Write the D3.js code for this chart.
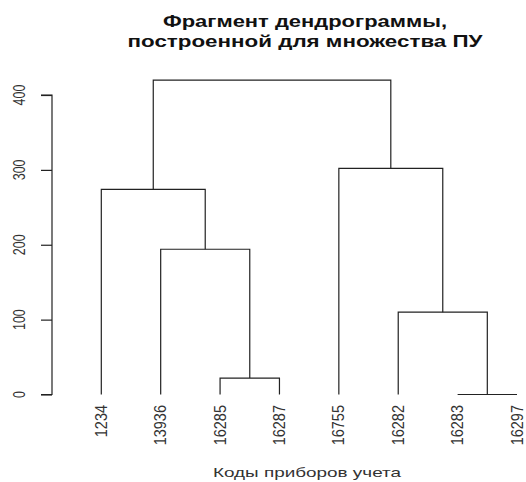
<!DOCTYPE html>
<html>
<head>
<meta charset="utf-8">
<script src="https://cdn.jsdelivr.net/npm/d3@7"></script>
<style>
  html, body { margin: 0; padding: 0; background: #fff; }
  svg { display: block; font-family: "Liberation Sans", Arial, sans-serif; }
</style>
</head>
<body>
<svg id="chart" width="526" height="482"></svg>
<script>
// Leaves in plotting order
const leafLabels = ["1234", "13936", "16285", "16287", "16755", "16282", "16283", "16297"];

// Agglomeration steps (hclust style): negative = leaf number (1-based), positive = earlier step
const mergeLeft   = [-7, -3, -6, -2, -1, -5, 5];
const mergeRight  = [-8, -4, 1, 2, 4, 3, 6];
const mergeHeight = [0, 22, 110, 194, 274, 302, 420];

const yTicks = [0, 100, 200, 300, 400];

const titleLines = ["Фрагмент дендрограммы,", "построенной для множества ПУ"];
const xTitle = "Коды приборов учета";

const svg = d3.select("#chart");
const ink = "#222";

const x = d3.scalePoint().domain(leafLabels).range([101.3, 517]);
const y = d3.scaleLinear().domain([0, 400]).range([394.5, 95]);

// Resolve a node reference to its x position and height
const nodeX = [], nodeH = [];
function ref(r) {
  if (r < 0) return { x: x(leafLabels[-r - 1]), h: 0 };
  return { x: nodeX[r - 1], h: nodeH[r - 1] };
}

const g = svg.append("g");
mergeHeight.forEach((h, i) => {
  const a = ref(mergeLeft[i]), b = ref(mergeRight[i]);
  nodeX[i] = (a.x + b.x) / 2;
  nodeH[i] = h;
  const p = d3.path();
  p.moveTo(a.x, y(a.h));
  p.lineTo(a.x, y(h));
  p.lineTo(b.x, y(h));
  p.lineTo(b.x, y(b.h));
  g.append("path")
    .attr("d", p.toString())
    .attr("fill", "none")
    .attr("stroke", ink)
    .attr("stroke-width", 1.2);
});

// Vertical axis
const axis = svg.append("g")
  .attr("transform", "translate(52,0)")
  .call(d3.axisLeft(y).tickValues(yTicks).tickSize(11).tickFormat(d3.format("d")));
axis.select(".domain").attr("stroke", ink).attr("stroke-width", 1.2).attr("d", `M-11,${y(400)}H0V${y(0)}H-11`);
axis.selectAll(".tick line").attr("stroke", ink).attr("stroke-width", 1.2);
axis.selectAll(".tick text").remove();

svg.append("g").selectAll("text")
  .data(yTicks)
  .join("text")
  .attr("transform", d => `translate(19,${y(d)}) scale(1.3,1) rotate(-90)`)
  .attr("text-anchor", "middle")
  .attr("dy", "0.35em")
  .attr("font-size", 12.5)
  .attr("fill", "#333")
  .text(d => d);

// Leaf labels
svg.append("g").selectAll("text")
  .data(leafLabels)
  .join("text")
  .attr("transform", d => `translate(${x(d)},405) scale(1.1,1) rotate(-90)`)
  .attr("text-anchor", "end")
  .attr("dy", "0.35em")
  .attr("font-size", 14.5)
  .attr("fill", "#333")
  .text(d => d);

// Title
svg.append("g").selectAll("text")
  .data(titleLines)
  .join("text")
  .attr("x", 305)
  .attr("y", (d, i) => 27 + i * 20)
  .attr("text-anchor", "middle")
  .attr("font-weight", "bold")
  .attr("font-size", 16.5)
  .attr("fill", "#111")
  .attr("textLength", (d, i) => i === 0 ? 284 : 355)
  .attr("lengthAdjust", "spacingAndGlyphs")
  .text(d => d);

// Axis title
svg.append("text")
  .attr("x", 307)
  .attr("y", 477)
  .attr("text-anchor", "middle")
  .attr("font-size", 13)
  .attr("fill", "#333")
  .attr("textLength", 188)
  .attr("lengthAdjust", "spacingAndGlyphs")
  .text(xTitle);
</script>
</body>
</html>
